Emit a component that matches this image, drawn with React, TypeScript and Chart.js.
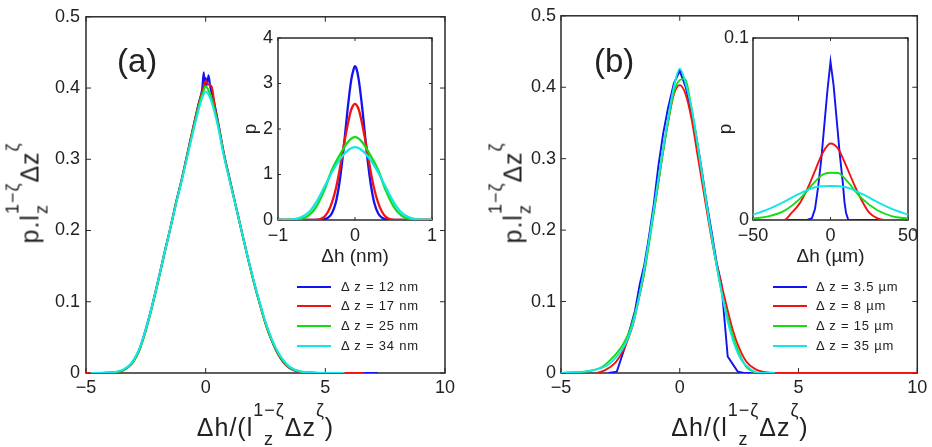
import React, { useEffect, useRef } from 'react';
import { Chart, registerables } from 'chart.js';

Chart.register(...registerables);

type Pt = [number, number];

// ---------- series names and colours ----------
const seriesLabelsA = ['Δ z = 12 nm', 'Δ z = 17 nm', 'Δ z = 25 nm', 'Δ z = 34 nm'];
const seriesLabelsB = ['Δ z = 3.5 µm', 'Δ z = 8 µm', 'Δ z = 15 µm', 'Δ z = 35 µm'];
const seriesColors = ['#1212f2', '#f21212', '#12dc12', '#12e6e6'];

// ---------- tick values ----------
const collapsedXTicks = [-5, 0, 5, 10];
const collapsedYTicks = [0, 0.1, 0.2, 0.3, 0.4, 0.5];
const insetAXTicks = [-1, 0, 1];
const insetAYTicks = [0, 1, 2, 3, 4];
const insetBXTicks = [-50, 0, 50];
const insetBYTicks = [0, 0.1];

// ---------- panel (a): rescaled distributions ----------
const collapsedA12: Pt[] = [[-5, 0], [-4, 0.0005], [-3.5, 0.003], [-3.25, 0.008], [-3, 0.018], [-2.75, 0.035], [-2.5, 0.062], [-2.25, 0.093], [-2, 0.128], [-1.75, 0.165], [-1.5, 0.2], [-1.25, 0.238], [-1, 0.272], [-0.75, 0.31], [-0.5, 0.348], [-0.3, 0.378], [-0.15, 0.398], [-0.08, 0.422], [-0.03, 0.402], [0, 0.414], [0.05, 0.404], [0.12, 0.418], [0.2, 0.4], [0.3, 0.388], [0.5, 0.356], [0.75, 0.31], [1, 0.273], [1.25, 0.236], [1.5, 0.2], [1.75, 0.164], [2, 0.13], [2.25, 0.099], [2.5, 0.07], [2.75, 0.047], [3, 0.028], [3.25, 0.015], [3.5, 0.007], [4, 0.001], [5, 0], [7.2, 0]];
const collapsedA17: Pt[] = [[-5, 0], [-4, 0.0005], [-3.5, 0.003], [-3.25, 0.008], [-3, 0.017], [-2.75, 0.034], [-2.5, 0.06], [-2.25, 0.092], [-2, 0.127], [-1.75, 0.164], [-1.5, 0.2], [-1.25, 0.237], [-1, 0.272], [-0.75, 0.31], [-0.5, 0.348], [-0.25, 0.383], [-0.1, 0.4], [0, 0.41], [0.1, 0.405], [0.25, 0.402], [0.4, 0.37], [0.5, 0.354], [0.75, 0.31], [1, 0.272], [1.25, 0.236], [1.5, 0.199], [1.75, 0.163], [2, 0.129], [2.25, 0.098], [2.5, 0.069], [2.75, 0.046], [3, 0.028], [3.25, 0.015], [3.5, 0.007], [4, 0.001], [5, 0], [6.6, 0]];
const collapsedA25: Pt[] = [[-4.8, 0], [-4, 0.0006], [-3.5, 0.003], [-3.25, 0.008], [-3, 0.017], [-2.75, 0.034], [-2.5, 0.06], [-2.25, 0.091], [-2, 0.126], [-1.75, 0.163], [-1.5, 0.199], [-1.25, 0.236], [-1, 0.271], [-0.75, 0.308], [-0.5, 0.345], [-0.25, 0.38], [-0.1, 0.395], [0, 0.403], [0.1, 0.398], [0.25, 0.385], [0.5, 0.352], [0.75, 0.308], [1, 0.271], [1.25, 0.235], [1.5, 0.199], [1.75, 0.163], [2, 0.129], [2.25, 0.098], [2.5, 0.07], [2.75, 0.047], [3, 0.029], [3.25, 0.016], [3.5, 0.008], [4, 0.0015], [5, 0], [5.6, 0]];
const collapsedA34: Pt[] = [[-4.8, 0], [-4, 0.0007], [-3.5, 0.004], [-3.25, 0.009], [-3, 0.019], [-2.75, 0.036], [-2.5, 0.062], [-2.25, 0.093], [-2, 0.128], [-1.75, 0.164], [-1.5, 0.2], [-1.25, 0.236], [-1, 0.27], [-0.75, 0.306], [-0.5, 0.342], [-0.25, 0.375], [-0.1, 0.39], [0, 0.395], [0.1, 0.392], [0.25, 0.38], [0.5, 0.348], [0.75, 0.306], [1, 0.27], [1.25, 0.235], [1.5, 0.2], [1.75, 0.164], [2, 0.131], [2.25, 0.1], [2.5, 0.072], [2.75, 0.049], [3, 0.031], [3.25, 0.018], [3.5, 0.009], [4, 0.002], [5, 0], [5.8, 0]];

// ---------- panel (a) inset: raw distributions, Δh in nm ----------
const rawA12: Pt[] = [[-1, 0], [-0.5, 0], [-0.4, 0.013], [-0.35, 0.05], [-0.3, 0.15], [-0.25, 0.38], [-0.2, 0.84], [-0.15, 1.53], [-0.1, 2.37], [-0.05, 3.07], [-0.02, 3.3], [0, 3.38], [0.02, 3.32], [0.05, 3.07], [0.1, 2.37], [0.15, 1.53], [0.2, 0.84], [0.25, 0.38], [0.3, 0.15], [0.35, 0.05], [0.4, 0.013], [0.5, 0], [1, 0]];
const rawA17: Pt[] = [[-1, 0], [-0.6, 0], [-0.5, 0.005], [-0.45, 0.02], [-0.4, 0.07], [-0.35, 0.18], [-0.3, 0.38], [-0.25, 0.68], [-0.2, 1.1], [-0.15, 1.6], [-0.1, 2.05], [-0.05, 2.42], [0, 2.55], [0.05, 2.42], [0.1, 2.05], [0.15, 1.6], [0.2, 1.1], [0.25, 0.68], [0.3, 0.38], [0.35, 0.18], [0.4, 0.07], [0.45, 0.02], [0.5, 0.005], [0.6, 0], [1, 0]];
const rawA25: Pt[] = [[-1, 0], [-0.9, 0.001], [-0.8, 0.005], [-0.7, 0.025], [-0.6, 0.1], [-0.5, 0.3], [-0.4, 0.65], [-0.3, 1.1], [-0.2, 1.42], [-0.1, 1.7], [0, 1.82], [0.1, 1.7], [0.2, 1.42], [0.3, 1.1], [0.4, 0.65], [0.5, 0.3], [0.6, 0.1], [0.7, 0.025], [0.8, 0.005], [0.9, 0.001], [1, 0]];
const rawA34: Pt[] = [[-1, 0], [-0.9, 0.003], [-0.8, 0.015], [-0.7, 0.06], [-0.6, 0.17], [-0.5, 0.4], [-0.4, 0.72], [-0.3, 1.05], [-0.2, 1.32], [-0.1, 1.52], [0, 1.6], [0.1, 1.52], [0.2, 1.32], [0.3, 1.05], [0.4, 0.72], [0.5, 0.4], [0.6, 0.17], [0.7, 0.06], [0.8, 0.015], [0.9, 0.003], [1, 0]];

// ---------- panel (b): rescaled distributions ----------
const collapsedB35: Pt[] = [[-3, 0], [-2.65, 0.002], [-2.3, 0.037], [-1.88, 0.088], [-1.68, 0.125], [-1.5, 0.15], [-1.3, 0.19], [-1.1, 0.235], [-0.9, 0.29], [-0.7, 0.335], [-0.5, 0.37], [-0.25, 0.405], [0, 0.423], [0.25, 0.4], [0.5, 0.365], [0.7, 0.33], [0.9, 0.29], [1.1, 0.245], [1.33, 0.2], [1.55, 0.155], [1.75, 0.125], [2.02, 0.023], [2.44, 0.002], [2.7, 0], [3, 0]];
const collapsedB8: Pt[] = [[-3.5, 0], [-3.14, 0.004], [-2.7, 0.015], [-2.37, 0.032], [-2.15, 0.05], [-1.96, 0.069], [-1.75, 0.1], [-1.5, 0.14], [-1.25, 0.195], [-1, 0.245], [-0.75, 0.3], [-0.5, 0.35], [-0.25, 0.39], [0, 0.403], [0.25, 0.39], [0.5, 0.355], [0.75, 0.305], [1, 0.255], [1.25, 0.205], [1.5, 0.16], [1.75, 0.125], [2, 0.09], [2.25, 0.058], [2.5, 0.035], [2.8, 0.016], [3.2, 0.005], [3.6, 0.001], [4, 0], [10, 0]];
const collapsedB15: Pt[] = [[-5, 0], [-4.5, 0.001], [-3.77, 0.003], [-3.3, 0.008], [-2.93, 0.018], [-2.6, 0.03], [-2.39, 0.04], [-2.1, 0.06], [-1.8, 0.095], [-1.5, 0.14], [-1.25, 0.19], [-1, 0.245], [-0.75, 0.3], [-0.5, 0.35], [-0.25, 0.393], [0, 0.41], [0.2, 0.412], [0.5, 0.37], [0.75, 0.32], [1, 0.265], [1.25, 0.21], [1.5, 0.16], [1.75, 0.115], [2, 0.08], [2.3, 0.045], [2.6, 0.02], [2.79, 0.009], [3.1, 0.002], [3.5, 0], [4, 0]];
const collapsedB35um: Pt[] = [[-5, 0], [-4.5, 0.001], [-4, 0.002], [-3.5, 0.005], [-3, 0.012], [-2.6, 0.025], [-2.3, 0.04], [-2, 0.065], [-1.75, 0.1], [-1.5, 0.145], [-1.25, 0.195], [-1, 0.25], [-0.75, 0.305], [-0.5, 0.355], [-0.25, 0.4], [0, 0.426], [0.25, 0.405], [0.5, 0.37], [0.75, 0.32], [1, 0.265], [1.25, 0.21], [1.5, 0.16], [1.75, 0.115], [2, 0.075], [2.3, 0.04], [2.6, 0.018], [3, 0.005], [3.35, 0], [4, 0]];

// ---------- panel (b) inset: raw distributions, Δh in µm ----------
const rawB35: Pt[] = [[-50, 0], [-15, 0], [-12, 0.001], [-10, 0.006], [-8, 0.018], [-6, 0.033], [-4, 0.052], [-2, 0.071], [0, 0.087], [2, 0.074], [4, 0.055], [6, 0.036], [8, 0.02], [9, 0.01], [10, 0.004], [11.5, 0], [15, 0], [50, 0]];
const rawB8: Pt[] = [[-50, 0], [-30, 0], [-25, 0.004], [-20, 0.009], [-15, 0.017], [-10, 0.027], [-5, 0.037], [0, 0.042], [5, 0.039], [10, 0.03], [15, 0.02], [20, 0.011], [25, 0.004], [30, 0.001], [35, 0], [50, 0]];
const rawB15: Pt[] = [[-50, 0.0008], [-40, 0.002], [-30, 0.005], [-20, 0.0115], [-10, 0.021], [-5, 0.025], [0, 0.026], [5, 0.0258], [10, 0.022], [20, 0.012], [30, 0.0055], [40, 0.002], [50, 0.0008]];
const rawB35um: Pt[] = [[-50, 0.003], [-40, 0.006], [-30, 0.01], [-20, 0.0145], [-10, 0.018], [0, 0.0187], [10, 0.018], [20, 0.0145], [30, 0.01], [40, 0.006], [50, 0.003]];

const FONT = '"Liberation Sans", Arial, Helvetica, sans-serif';
const INK = '#222222';
const FRAME = '#2a2a2a';

interface PanelSpec {
  series: Pt[][];
  labels: string[];
  xTicks: number[];
  yTicks: number[];
  xRange: [number, number];
  yRange: [number, number];
  yWidth: number;
  xHeight: number;
  padTop: number;
  padRight: number;
  xPad: number;
  yPad: number;
  lineWidth: number;
  tickLen: number;
  smooth: boolean[];
  fillArea: boolean;
  xTitle?: string;
  yTitle?: string;
  xTitlePad?: number;
  yTitlePad?: number;
}

interface Box { left: number; top: number; w: number; h: number }

const fmtTick = (v: number) => (v < 0 ? '\u2212' + String(-v) : String(v));

// box outline plus inward ticks on all four sides
function framePlugin(spec: PanelSpec) {
  return {
    id: 'frameTicks',
    beforeDraw(chart: any) {
      if (!spec.fillArea) return;
      const { ctx, chartArea: a } = chart;
      ctx.save();
      ctx.fillStyle = '#ffffff';
      ctx.fillRect(a.left, a.top, a.right - a.left, a.bottom - a.top);
      ctx.restore();
    },
    beforeDatasetsDraw(chart: any) {
      const { ctx, chartArea: a, scales } = chart;
      const len = spec.tickLen;
      ctx.save();
      ctx.strokeStyle = FRAME;
      ctx.lineWidth = 1.5;
      ctx.strokeRect(a.left, a.top, a.right - a.left, a.bottom - a.top);
      ctx.beginPath();
      for (const t of scales.x.ticks) {
        const px = scales.x.getPixelForValue(t.value);
        ctx.moveTo(px, a.bottom);
        ctx.lineTo(px, a.bottom - len);
        ctx.moveTo(px, a.top);
        ctx.lineTo(px, a.top + len);
      }
      for (const t of scales.y.ticks) {
        const py = scales.y.getPixelForValue(t.value);
        ctx.moveTo(a.left, py);
        ctx.lineTo(a.left + len, py);
        ctx.moveTo(a.right, py);
        ctx.lineTo(a.right - len, py);
      }
      ctx.lineWidth = 1;
      ctx.stroke();
      ctx.restore();
    },
  };
}

function buildConfig(spec: PanelSpec): any {
  const tickFont = { family: FONT, size: 18 };
  const titleFont = { family: FONT, size: 19 };
  return {
    type: 'line',
    data: {
      datasets: spec.series.map((pts, i) => ({
        label: spec.labels[i],
        data: pts.map(([x, y]) => ({ x, y })),
        borderColor: seriesColors[i],
        backgroundColor: seriesColors[i],
        borderWidth: spec.lineWidth,
        pointRadius: 0,
        fill: false,
        order: spec.series.length - i,
        cubicInterpolationMode: spec.smooth[i] ? 'monotone' : 'default',
        tension: 0,
      })),
    },
    options: {
      animation: false,
      responsive: false,
      maintainAspectRatio: false,
      devicePixelRatio: 1,
      events: [],
      layout: { padding: { left: 0, top: spec.padTop, right: spec.padRight, bottom: 0 } },
      plugins: { legend: { display: false }, tooltip: { enabled: false } },
      scales: {
        x: {
          type: 'linear',
          min: spec.xRange[0],
          max: spec.xRange[1],
          afterBuildTicks: (sc: any) => { sc.ticks = spec.xTicks.map((v) => ({ value: v })); },
          afterFit: (sc: any) => { sc.height = spec.xHeight; },
          grid: { display: false, drawTicks: false },
          border: { display: false },
          ticks: { font: tickFont, color: INK, padding: spec.xPad, maxRotation: 0, autoSkip: false, callback: (v: any) => fmtTick(Number(v)) },
          title: spec.xTitle
            ? { display: true, text: spec.xTitle, font: titleFont, color: INK, padding: { top: 0, bottom: spec.xTitlePad } }
            : { display: false },
        },
        y: {
          type: 'linear',
          min: spec.yRange[0],
          max: spec.yRange[1],
          afterBuildTicks: (sc: any) => { sc.ticks = spec.yTicks.map((v) => ({ value: v })); },
          afterFit: (sc: any) => { sc.width = spec.yWidth; },
          grid: { display: false, drawTicks: false },
          border: { display: false },
          ticks: { font: tickFont, color: INK, padding: spec.yPad, autoSkip: false, callback: (v: any) => fmtTick(Number(v)) },
          title: spec.yTitle
            ? { display: true, text: spec.yTitle, font: titleFont, color: INK, padding: { top: spec.yTitlePad, bottom: 0 } }
            : { display: false },
        },
      },
    },
    plugins: [framePlugin(spec)],
  };
}

const mainASpec: PanelSpec = {
  series: [collapsedA12, collapsedA17, collapsedA25, collapsedA34], labels: seriesLabelsA,
  xTicks: collapsedXTicks, yTicks: collapsedYTicks, xRange: [-5, 10], yRange: [0, 0.5],
  yWidth: 86, xHeight: 74, padTop: 13.5, padRight: 21, xPad: 4.7, yPad: 6,
  lineWidth: 2, tickLen: 5, smooth: [true, true, true, true], fillArea: false,
};
const mainBSpec: PanelSpec = {
  series: [collapsedB35, collapsedB8, collapsedB15, collapsedB35um], labels: seriesLabelsB,
  xTicks: collapsedXTicks, yTicks: collapsedYTicks, xRange: [-5, 10], yRange: [0, 0.5],
  yWidth: 95, xHeight: 74, padTop: 13.5, padRight: 13, xPad: 4.7, yPad: 5,
  lineWidth: 1.9, tickLen: 5, smooth: [false, true, true, true], fillArea: false,
};
const insetASpec: PanelSpec = {
  series: [rawA12, rawA17, rawA25, rawA34], labels: seriesLabelsA,
  xTicks: insetAXTicks, yTicks: insetAYTicks, xRange: [-1, 1], yRange: [0, 4],
  yWidth: 50, xHeight: 62, padTop: 18, padRight: 18, xPad: 5.7, yPad: 5,
  lineWidth: 2.3, tickLen: 3, smooth: [true, true, true, true], fillArea: true,
  xTitle: 'Δh (nm)', yTitle: 'p', xTitlePad: 13.6, yTitlePad: 11.6,
};
const insetBSpec: PanelSpec = {
  series: [rawB35, rawB8, rawB15, rawB35um], labels: seriesLabelsB,
  xTicks: insetBXTicks, yTicks: insetBYTicks, xRange: [-50, 50], yRange: [0, 0.1],
  yWidth: 50, xHeight: 62, padTop: 18, padRight: 17, xPad: 5.7, yPad: 4,
  lineWidth: 1.9, tickLen: 3, smooth: [false, true, true, true], fillArea: true,
  xTitle: 'Δh (µm)', yTitle: 'p', xTitlePad: 13.6, yTitlePad: 11.6,
};

function ChartCanvas({ spec, box }: { spec: PanelSpec; box: Box }) {
  const ref = useRef<HTMLCanvasElement>(null);
  useEffect(() => {
    const chart = new Chart(ref.current as HTMLCanvasElement, buildConfig(spec));
    return () => chart.destroy();
  }, [spec]);
  return (
    <canvas
      ref={ref}
      width={box.w}
      height={box.h}
      style={{ position: 'absolute', left: box.left, top: box.top, width: box.w, height: box.h }}
    />
  );
}

// ---------- axis titles with TeX-like scripts ----------
const TITLE_SIZE = 25;
const SCRIPT_SIZE = 18;
const RAISE = 20;
const DROP = 9;

function Scripts({ sup, sub }: { sup: string; sub?: string }) {
  if (!sub) {
    return (
      <span style={{ display: 'inline-block', fontSize: SCRIPT_SIZE, lineHeight: 1, verticalAlign: RAISE }}>{sup}</span>
    );
  }
  return (
    <span style={{ display: 'inline-block', fontSize: SCRIPT_SIZE, lineHeight: 1, verticalAlign: -DROP }}>
      <span style={{ display: 'block', marginBottom: RAISE + DROP - SCRIPT_SIZE }}>{sup}</span>
      <span style={{ display: 'block' }}>{sub}</span>
    </span>
  );
}

const titleStyle: React.CSSProperties = {
  fontFamily: FONT,
  fontSize: TITLE_SIZE,
  lineHeight: 1,
  color: INK,
  whiteSpace: 'nowrap',
  letterSpacing: '1px',
};

function XTitle({ left, width }: { left: number; width: number }) {
  return (
    <div style={{ ...titleStyle, position: 'absolute', left, width, top: 401, textAlign: 'center' }}>
      Δh/(l<Scripts sup="1−ζ" sub="z" />Δz<Scripts sup="ζ" />)
    </div>
  );
}

function YTitle({ cx, cy }: { cx: number; cy: number }) {
  return (
    <div
      style={{
        ...titleStyle,
        position: 'absolute',
        left: cx,
        top: cy,
        transform: 'translate(-50%, -50%) rotate(-90deg)',
      }}
    >
      p.l<Scripts sup="1−ζ" sub="z" />Δz<Scripts sup="ζ" />
    </div>
  );
}

function PanelTag({ text, left }: { text: string; left: number }) {
  return (
    <div style={{ position: 'absolute', left, top: 44, fontFamily: FONT, fontSize: 33, lineHeight: '33px', color: INK }}>
      {text}
    </div>
  );
}

function SeriesLegend({ labels, lineLeft, textLeft }: { labels: string[]; lineLeft: number; textLeft: number }) {
  return (
    <>
      {labels.map((lab, i) => {
        const cy = 286.5 + i * 19.8;
        return (
          <React.Fragment key={lab}>
            <div style={{ position: 'absolute', left: lineLeft, top: cy - 1, width: 34, height: 2, background: seriesColors[i] }} />
            <div
              style={{
                position: 'absolute', left: textLeft, top: cy - 8, height: 16, lineHeight: '16px',
                fontFamily: FONT, fontSize: 13, letterSpacing: '0.8px', color: INK, whiteSpace: 'nowrap',
              }}
            >
              {lab}
            </div>
          </React.Fragment>
        );
      })}
    </>
  );
}

export default function App() {
  return (
    <div style={{ position: 'absolute', left: 0, top: 0, width: 932, height: 447, overflow: 'hidden', background: '#fff' }}>
      <ChartCanvas spec={mainASpec} box={{ left: 0, top: 0, w: 466, h: 447 }} />
      <ChartCanvas spec={mainBSpec} box={{ left: 466, top: 0, w: 466, h: 447 }} />
      <ChartCanvas spec={insetASpec} box={{ left: 228, top: 20, w: 222, h: 262 }} />
      <ChartCanvas spec={insetBSpec} box={{ left: 703, top: 20, w: 222, h: 262 }} />
      <XTitle left={86} width={359} />
      <XTitle left={561} width={358} />
      <YTitle cx={27} cy={193} />
      <YTitle cx={510} cy={193} />
      <PanelTag text="(a)" left={117} />
      <PanelTag text="(b)" left={594} />
      <SeriesLegend labels={seriesLabelsA} lineLeft={297} textLeft={341} />
      <SeriesLegend labels={seriesLabelsB} lineLeft={773} textLeft={816} />
    </div>
  );
}
